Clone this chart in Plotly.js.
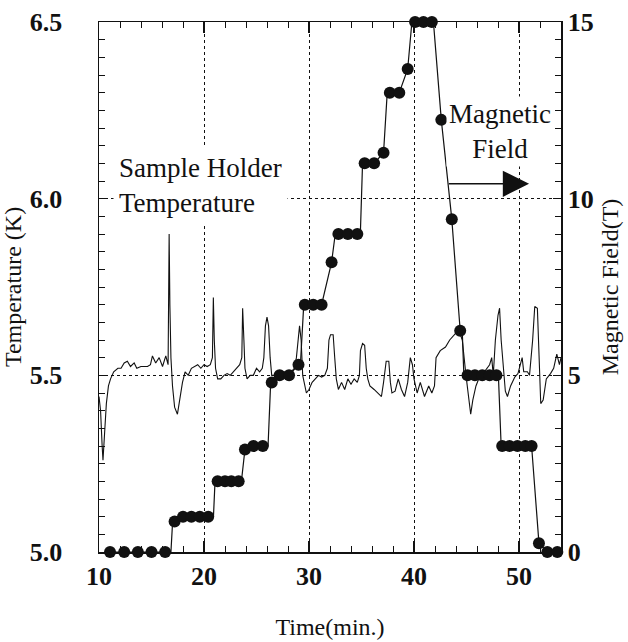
<!DOCTYPE html>
<html>
<head>
<meta charset="utf-8">
<script src="https://cdn.plot.ly/plotly-3.0.1.min.js"></script>
<style>html,body{margin:0;padding:0;background:#fff;}#chart{width:628px;height:642px;}</style>
</head>
<body>
<div id="chart"></div>
<script>
// Sample holder temperature record (time in min, temperature in K)
var tempTime = [10.0,10.15,10.3,10.38,10.5,10.7,10.9,11.1,11.4,11.8,12.1,12.4,12.7,13.0,13.35,13.6,13.99,14.3,14.62,14.9,15.09,15.4,15.73,16.05,16.36,16.58,16.63,16.68,16.75,16.85,17.0,17.2,17.47,17.7,17.95,18.2,18.5,18.8,19.1,19.4,19.7,20.0,20.3,20.6,20.8,20.89,20.98,21.1,21.3,21.6,21.9,22.2,22.5,22.8,23.1,23.4,23.6,23.68,23.8,23.9,24.1,24.4,24.7,25.0,25.3,25.55,25.7,25.85,26.0,26.15,26.3,26.45,26.8,27.1,27.4,27.7,28.0,28.3,28.6,28.8,29.0,29.1,29.25,29.4,29.75,30.0,30.3,30.6,30.9,31.2,31.5,31.75,31.9,32.05,32.3,32.45,32.6,32.8,33.1,33.4,33.7,34.0,34.3,34.6,34.8,34.9,35.1,35.3,35.45,35.6,35.8,36.2,36.6,36.9,37.1,37.35,37.6,37.75,37.9,38.2,38.5,38.8,39.1,39.4,39.65,39.85,40.0,40.3,40.6,41.0,41.4,41.7,41.95,42.1,42.5,43.0,43.4,43.7,44.0,44.3,44.6,44.95,45.2,45.4,45.6,45.9,46.3,46.7,47.2,47.4,47.55,47.75,48.0,48.15,48.3,48.5,48.7,48.9,49.2,49.6,49.9,50.3,50.45,50.8,51.0,51.3,51.5,51.75,51.9,52.07,52.3,52.6,53.0,53.3,53.6,53.85,54.0];
var tempK = [5.44,5.40,5.30,5.26,5.32,5.42,5.47,5.49,5.51,5.52,5.52,5.535,5.54,5.525,5.535,5.52,5.525,5.525,5.525,5.53,5.555,5.535,5.55,5.525,5.555,5.53,5.70,5.90,5.70,5.55,5.47,5.41,5.39,5.43,5.48,5.51,5.50,5.52,5.525,5.53,5.52,5.53,5.525,5.53,5.55,5.72,5.60,5.52,5.49,5.49,5.50,5.505,5.50,5.51,5.52,5.53,5.55,5.69,5.60,5.52,5.49,5.50,5.50,5.52,5.51,5.52,5.55,5.64,5.665,5.64,5.55,5.50,5.50,5.51,5.50,5.51,5.50,5.51,5.52,5.55,5.62,5.64,5.60,5.50,5.45,5.46,5.48,5.49,5.50,5.495,5.50,5.52,5.60,5.615,5.615,5.55,5.49,5.46,5.48,5.46,5.49,5.475,5.49,5.48,5.50,5.57,5.59,5.585,5.52,5.49,5.47,5.46,5.45,5.44,5.48,5.54,5.54,5.48,5.45,5.455,5.49,5.46,5.44,5.48,5.55,5.53,5.49,5.45,5.48,5.44,5.47,5.45,5.47,5.55,5.57,5.58,5.60,5.61,5.62,5.625,5.60,5.50,5.43,5.39,5.43,5.47,5.50,5.51,5.53,5.55,5.50,5.60,5.67,5.69,5.60,5.52,5.455,5.44,5.47,5.495,5.505,5.55,5.51,5.51,5.50,5.60,5.695,5.69,5.55,5.42,5.43,5.49,5.505,5.52,5.56,5.53,5.55];

// Magnetic field record (continuous line) in T
var fieldLineTime = [11.05,16.3,16.85,17.0,17.2,17.5,20.4,20.9,21.05,23.3,23.6,23.9,24.2,25.6,26.1,26.35,27.2,28.1,29.0,29.2,29.5,31.2,32.15,32.5,34.6,34.9,35.1,36.2,37.1,37.45,38.6,39.4,39.8,41.7,41.85,42.6,43.6,44.4,44.6,44.75,47.85,48.05,48.3,51.2,51.9,52.7,53.65];
var fieldLineT = [0,0,0,0.8,0.86,1.0,1.0,1.0,2.0,2.0,2.1,2.9,3.0,3.0,3.0,4.8,5.0,5.0,5.3,5.4,7.0,7.0,8.2,9.0,9.0,9.1,11.0,11.0,11.3,13.0,13.0,13.67,15.0,15.0,15.0,12.23,9.42,6.26,6.2,5.0,5.0,4.9,3.0,3.0,0.25,0,0];

// Magnetic field sampled points (markers)
var fieldTime = [11.05,12.4,13.7,15.0,16.3,17.2,18.0,18.8,19.6,20.4,21.3,22.0,22.6,23.3,23.9,24.7,25.6,26.45,27.2,28.1,29.0,29.6,30.4,31.2,32.15,32.8,33.7,34.6,35.3,36.2,37.1,37.7,38.6,39.4,40.1,40.9,41.7,42.6,43.6,44.4,45.1,45.8,46.5,47.2,47.85,48.4,49.1,49.85,50.6,51.2,51.9,52.7,53.65];
var fieldT = [0,0,0,0,0,0.86,1.0,1.0,1.0,1.0,2.0,2.0,2.0,2.0,2.9,3.0,3.0,4.8,5.0,5.0,5.3,7.0,7.0,7.0,8.2,9.0,9.0,9.0,11.0,11.0,11.3,13.0,13.0,13.67,15.0,15.0,15.0,12.23,9.42,6.26,5.0,5.0,5.0,5.0,5.0,3.0,3.0,3.0,3.0,3.0,0.25,0,0];

// Labels
var xTitle = "Time(min.)";
var yTitle = "Temperature (K)";
var y2Title = "Magnetic Field(T)";
var tempLabel = "Sample Holder<br>Temperature";
var fieldLabel = "Magnetic<br>Field";

var serif = "Liberation Serif";
var ink = "#111111";

var traces = [
  {x: tempTime, y: tempK, type: "scatter", mode: "lines", line: {color: ink, width: 1.1}, yaxis: "y", showlegend: false},
  {x: fieldLineTime, y: fieldLineT, type: "scatter", mode: "lines", line: {color: ink, width: 1.2}, yaxis: "y2", showlegend: false},
  {x: fieldTime, y: fieldT, type: "scatter", mode: "markers", marker: {color: ink, size: 12, symbol: "circle"}, yaxis: "y2", cliponaxis: false, showlegend: false}
];

var tickFont = {family: serif, size: 26, color: ink, weight: "bold"};
var titleFont = {family: serif, size: 24, color: ink};

var layout = {
  width: 628, height: 642,
  margin: {l: 99, r: 67, t: 22, b: 90},
  paper_bgcolor: "#fff", plot_bgcolor: "#fff",
  font: {family: serif, color: ink},
  showlegend: false,
  xaxis: {
    range: [10, 54], tick0: 10, dtick: 10, tickmode: "linear",
    ticks: "inside", ticklen: 11, tickwidth: 1.2, tickcolor: ink,
    minor: {dtick: 2, tick0: 10, ticks: "inside", ticklen: 6, tickwidth: 1, tickcolor: ink, showgrid: false},
    showline: true, linecolor: ink, linewidth: 1.5, mirror: "ticks",
    showgrid: true, gridcolor: ink, griddash: "dot", gridwidth: 1,
    zeroline: false,
    tickfont: tickFont,
    title: {text: xTitle, font: titleFont}
  },
  yaxis: {
    range: [5.0, 6.5], tick0: 5.0, dtick: 0.5, tickmode: "linear", tickformat: ".1f",
    ticks: "inside", ticklen: 8, tickwidth: 1.2, tickcolor: ink,
    minor: {dtick: 0.05, tick0: 5.0, ticks: "inside", ticklen: 6, tickwidth: 1, tickcolor: ink, showgrid: false},
    showline: true, linecolor: ink, linewidth: 1.5,
    showgrid: true, gridcolor: ink, griddash: "dot", gridwidth: 1,
    zeroline: false,
    tickfont: tickFont,
    ticklabelstandoff: 30,
    title: {text: yTitle, font: titleFont, standoff: 2}
  },
  yaxis2: {
    range: [0, 15], tick0: 0, dtick: 5, tickmode: "linear",
    overlaying: "y", side: "right",
    ticks: "inside", ticklen: 8, tickwidth: 1.2, tickcolor: ink,
    minor: {dtick: 0.5, tick0: 0, ticks: "inside", ticklen: 6, tickwidth: 1, tickcolor: ink, showgrid: false},
    showline: true, linecolor: ink, linewidth: 1.5,
    showgrid: false, zeroline: false,
    tickfont: tickFont,
    title: {text: y2Title, font: titleFont, standoff: 8}
  },
  annotations: [
    {x: 11.3, y: 6.037, xref: "x", yref: "y", text: tempLabel, showarrow: false,
     xanchor: "left", yanchor: "middle", align: "left", bgcolor: "#fff", borderpad: 5,
     font: {family: serif, size: 27, color: ink}},
    {x: 48.2, y: 6.19, xref: "x", yref: "y", text: fieldLabel, showarrow: false,
     xanchor: "center", yanchor: "middle", align: "center", bgcolor: "#fff", borderpad: 2,
     font: {family: serif, size: 27, color: ink}},
    {x: 50.96, y: 6.042, xref: "x", yref: "y", ax: 43.17, ay: 6.042, axref: "x", ayref: "y",
     text: "", showarrow: true, arrowhead: 2, arrowsize: 3.5, arrowwidth: 1.5, arrowcolor: ink}
  ]
};

Plotly.newPlot("chart", traces, layout, {displayModeBar: false, staticPlot: true});
</script>
</body>
</html>
